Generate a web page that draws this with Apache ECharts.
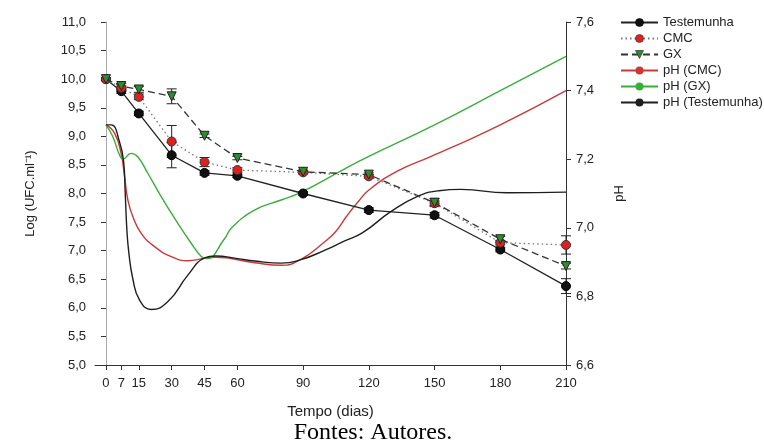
<!DOCTYPE html>
<html>
<head>
<meta charset="utf-8">
<script src="https://cdn.jsdelivr.net/npm/echarts@6/dist/echarts.min.js"></script>
<style>
  html, body { margin: 0; padding: 0; background: #fff; }
  #main { width: 764px; height: 448px; }
</style>
</head>
<body>
<div id="main"></div>
<script>
// tempos de coleta (dias)
var tempos = [0, 7, 15, 30, 45, 60, 90, 120, 150, 180, 210];

// Log (UFC.ml-1)
var testemunha = [10.0, 9.79, 9.40, 8.67, 8.36, 8.31, 8.00, 7.71, 7.62, 7.02, 6.38];
var cmc        = [10.0, 9.85, 9.69, 8.91, 8.55, 8.41, 8.37, 8.30, 7.83, 7.14, 7.10];
var gx         = [10.0, 9.88, 9.82, 9.70, 9.01, 8.62, 8.38, 8.33, 7.84, 7.20, 6.73];

// desvios
var erroTestemunha = [0.02, 0.04, 0.04, 0.22, 0.04, 0.03, 0.03, 0.04, 0.05, 0.04, 0.13];
var erroCmc        = [0.02, 0.03, 0.05, 0.28, 0.08, 0.04, 0.03, 0.03, 0.04, 0.04, 0.16];
var erroGx         = [0.02, 0.04, 0.05, 0.13, 0.03, 0.03, 0.03, 0.03, 0.07, 0.05, 0.05];

// curvas de pH [dia, pH]
var phTestemunha = [[0, 7.30], [2.4, 7.30], [6.2, 7.25], [8.1, 7.19], [8.8, 7.10], [9.5, 7.00],
  [10.4, 6.93], [12.3, 6.85], [15.3, 6.79], [20.7, 6.762], [28.3, 6.785], [37.4, 6.862],
  [45, 6.912], [50, 6.918], [60, 6.91], [68, 6.903], [80, 6.897], [89, 6.907], [100, 6.935],
  [109, 6.962], [117, 6.985], [130, 7.047], [142, 7.091], [152, 7.108], [162, 7.112],
  [183, 7.102], [210, 7.104]];
var phCmc = [[0, 7.30], [3.9, 7.276], [6.9, 7.217], [8.5, 7.149], [10, 7.081], [12.3, 7.032],
  [16.1, 6.984], [22.2, 6.945], [29.8, 6.916], [37.4, 6.904], [45, 6.911], [50, 6.914],
  [68, 6.898], [80, 6.891], [89, 6.908], [100, 6.96], [105, 6.99], [110, 7.035],
  [115, 7.075], [120, 7.11], [133, 7.165], [148, 7.207], [157, 7.232], [180, 7.30], [210, 7.40]];
var phGx = [[0, 7.30], [3.1, 7.266], [6.2, 7.212], [7.7, 7.20], [11.5, 7.217], [14.5, 7.207],
  [19.1, 7.159], [25.2, 7.091], [32.8, 7.013], [38.9, 6.955], [43.5, 6.916], [45.8, 6.91],
  [54.2, 6.969], [57.2, 6.999], [68, 7.052], [80, 7.081], [89, 7.103], [109, 7.172],
  [120, 7.208], [150, 7.30], [180, 7.40], [210, 7.50]];

var legendas = ['Testemunha', 'CMC', 'GX', 'pH (CMC)', 'pH (GX)', 'pH (Testemunha)'];
var ticksX = [0, 7, 15, 30, 45, 60, 90, 120, 150, 180, 210];

function pares(ys) {
  return tempos.map(function (t, i) { return [t, ys[i]]; });
}
function barras(ys, err) {
  return tempos.map(function (t, i) { return [t, ys[i] - err[i], ys[i] + err[i]]; });
}
function virgula(v, casas) {
  return v.toFixed(casas).replace('.', ',');
}

function desenhaErro(params, api) {
  var x = api.value(0);
  var p1 = api.coord([x, api.value(2)]);
  var p2 = api.coord([x, api.value(1)]);
  var w = 5;
  var st = { stroke: '#222', lineWidth: 1 };
  return {
    type: 'group',
    children: [
      { type: 'line', shape: { x1: p1[0], y1: p1[1], x2: p2[0], y2: p2[1] }, style: st },
      { type: 'line', shape: { x1: p1[0] - w, y1: p1[1], x2: p1[0] + w, y2: p1[1] }, style: st },
      { type: 'line', shape: { x1: p2[0] - w, y1: p2[1], x2: p2[0] + w, y2: p2[1] }, style: st }
    ]
  };
}

var fonte = 'Liberation Sans, Arial, sans-serif';
var myChart = echarts.init(document.getElementById('main'));

myChart.setOption({
  animation: false,
  textStyle: { fontFamily: fonte },
  grid: { left: 95, right: 198, top: 22, bottom: 83 },
  legend: {
    data: legendas.map(function (n) {
      return { name: n, itemStyle: { borderWidth: 0.6 } };
    }),
    orient: 'vertical',
    left: 615,
    top: 11,
    itemWidth: 37,
    itemHeight: 10,
    itemGap: 3,
    textStyle: { fontFamily: fonte, fontSize: 13, color: '#222' }
  },
  xAxis: {
    type: 'value',
    min: -5,
    max: 210,
    name: 'Tempo (dias)',
    nameLocation: 'middle',
    nameGap: 39,
    nameTextStyle: { fontSize: 15, color: '#222' },
    axisLine: { lineStyle: { color: '#333' } },
    axisTick: { show: true, length: 5, customValues: ticksX, lineStyle: { color: '#333' } },
    axisLabel: { customValues: ticksX, margin: 12, fontSize: 13, color: '#222' },
    splitLine: { show: false }
  },
  yAxis: [
    {
      type: 'value',
      min: 5,
      max: 11,
      interval: 0.5,
      name: 'Log (UFC.ml⁻¹)',
      nameLocation: 'middle',
      nameRotate: 90,
      nameGap: 58,
      nameTextStyle: { fontSize: 13, color: '#222' },
      axisLine: { show: true, lineStyle: { color: '#aaa' } },
      axisTick: { show: true, length: 5, lineStyle: { color: '#333' } },
      axisLabel: { margin: 9, fontSize: 13, color: '#222', formatter: function (v) { return virgula(v, 1); } },
      splitLine: { show: false }
    },
    {
      type: 'value',
      min: 6.6,
      max: 7.6,
      interval: 0.2,
      position: 'right',
      name: 'pH',
      nameLocation: 'middle',
      nameRotate: 90,
      nameGap: 47,
      nameTextStyle: { fontSize: 13, color: '#222' },
      axisLine: { show: true, lineStyle: { color: '#333' } },
      axisTick: { show: true, length: 5, lineStyle: { color: '#333' } },
      axisLabel: { margin: 10, fontSize: 13, color: '#222', formatter: function (v) { return virgula(v, 1); } },
      splitLine: { show: false }
    }
  ],
  graphic: [{
    type: 'text',
    x: 373,
    y: 433,
    style: {
      text: 'Fontes: Autores.', align: 'center', verticalAlign: 'middle',
      font: '24px "Liberation Serif", "Times New Roman", serif', fill: '#000'
    }
  }],
  series: [
    // curvas de pH (eixo direito)
    {
      name: 'pH (CMC)', type: 'line', yAxisIndex: 1, data: phCmc,
      symbol: 'none', smooth: 0.5,
      lineStyle: { color: '#c83a3a', width: 1.4 }, itemStyle: { color: '#c83a3a' }
    },
    {
      name: 'pH (GX)', type: 'line', yAxisIndex: 1, data: phGx,
      symbol: 'none', smooth: 0.5,
      lineStyle: { color: '#3aae3a', width: 1.4 }, itemStyle: { color: '#3aae3a' }
    },
    {
      name: 'pH (Testemunha)', type: 'line', yAxisIndex: 1, data: phTestemunha,
      symbol: 'none', smooth: 0.5,
      lineStyle: { color: '#1e1e1e', width: 1.4 }, itemStyle: { color: '#1e1e1e' }
    },
    // barras de erro
    { type: 'custom', renderItem: desenhaErro, data: barras(testemunha, erroTestemunha), encode: { x: 0, y: [1, 2] }, z: 3 },
    { type: 'custom', renderItem: desenhaErro, data: barras(cmc, erroCmc), encode: { x: 0, y: [1, 2] }, z: 3 },
    { type: 'custom', renderItem: desenhaErro, data: barras(gx, erroGx), encode: { x: 0, y: [1, 2] }, z: 3 },
    // contagens
    {
      name: 'Testemunha', type: 'line', data: pares(testemunha), z: 4,
      symbol: 'circle', symbolSize: 9,
      lineStyle: { color: '#222', width: 1.3 },
      itemStyle: { color: '#111', borderColor: '#000', borderWidth: 1 }
    },
    {
      name: 'CMC', type: 'line', data: pares(cmc), z: 5,
      symbol: 'circle', symbolSize: 9,
      lineStyle: { color: '#777', width: 1.3, type: [1.5, 3] },
      itemStyle: { color: '#e02020', borderColor: '#333', borderWidth: 1 }
    },
    {
      name: 'GX', type: 'line', data: pares(gx), z: 6,
      symbol: 'triangle', symbolRotate: 180, symbolSize: 9,
      lineStyle: { color: '#333', width: 1.3, type: [7, 4] },
      itemStyle: { color: '#2e8b2e', borderColor: '#222', borderWidth: 1 }
    }
  ]
});
</script>
</body>
</html>
